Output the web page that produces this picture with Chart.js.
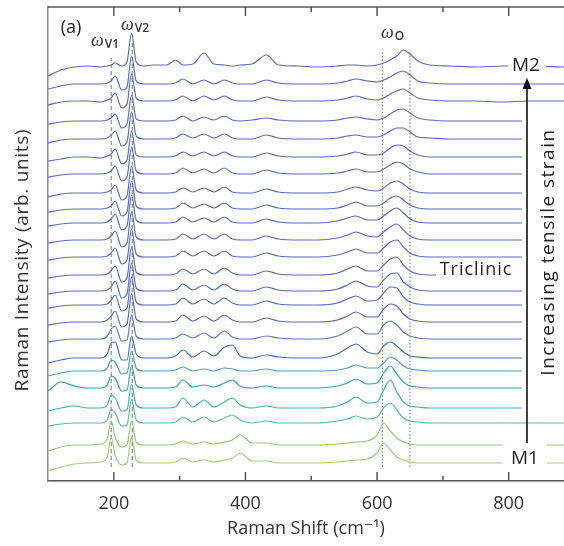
<!DOCTYPE html>
<html>
<head>
<meta charset="utf-8">
<script src="https://cdn.jsdelivr.net/npm/chart.js@4"></script>
<style>
  body { margin: 0; background: #fff; overflow: hidden; }
</style>
</head>
<body>
<canvas id="ramanChart" width="564" height="546"></canvas>
<script>
// Raman shift grid (cm-1)
const ramanShift = [100,120,140,160,180,190,196,202,212,220,227,234,245,260,280,294,305,320,337,352,368,380,392,410,432,450,480,510,540,555,568,585,600,610,620,630,640,650,662,680,710,750,790,830,884];

// vertical offset of each spectrum, top (M2) to bottom (M1)
const offsets = [415,397,380,360,342,324,307,288,272,258,241,224,206,190,176,159,142,123,110,93,73,58,36,18];

// spectra (intensity above each offset)
const spec0  = [-10,-4,-1,0,-1,0,1,3,0,4,33,4,0,1,1,6,1,2,13,2,1,0,1,2,11,1,0,-1,0,1,1,0,1,3,6,10,16,12,5,1,0,-1,0,0,-1];
const spec1  = [-5,-2,0,0,0,1,3,8,-6,-3,28,3,0,0,0,1,5,0,4,0,4,1,0,0,4,1,0,0,1,3,5,3,2,4,7,11,13,9,3,1,0,0,0,0,0];
const spec2  = [-4,-1,0,0,-1,1,3,8,-7,-3,27,3,0,0,0,1,5,0,5,1,5,1,0,0,4,1,0,0,1,3,5,2,1,3,7,10,12,8,3,1,0,0,-1,0,0];
const spec3  = [-3,-1,0,0,0,1,3,7,-7,-3,26,2,0,0,0,1,5,0,4,1,5,1,0,1,3,1,0,0,1,3,4,2,1,3,7,11,12,8,3,1,0,0,0,0,0];
const spec4  = [-4,-1,0,0,0,1,4,8,-7,-3,27,3,0,0,0,1,5,1,5,1,5,1,0,0,4,1,0,0,1,3,4,2,2,4,8,11,11,7,2,1,0,0,0,0,0];
const spec5  = [-4,-2,0,0,-1,1,3,8,-7,-3,26,2,0,0,0,1,5,1,5,1,5,1,0,0,4,1,0,0,1,3,5,2,2,4,9,12,11,6,2,0,0,0,0,0,0];
const spec6  = [-3,-1,0,0,0,1,3,8,-7,-3,27,3,0,0,0,1,6,1,5,1,6,1,0,0,4,1,0,0,1,3,5,2,2,5,9,12,10,5,2,0,0,0,0,0,0];
const spec7  = [-4,-1,0,0,0,1,3,8,-7,-3,27,3,0,0,0,1,5,1,5,1,6,1,0,0,4,1,0,0,1,4,6,3,2,5,10,12,9,4,1,0,0,0,0,0,0];
const spec8  = [-3,-1,0,0,0,1,3,8,-7,-3,28,3,0,0,0,1,6,1,5,1,6,1,0,0,4,1,0,0,1,4,7,3,3,6,11,13,9,4,1,0,0,0,0,0,0];
const spec9  = [-3,-1,0,0,0,1,4,9,-7,-3,28,3,0,0,0,1,6,1,5,1,6,1,0,0,4,1,0,0,2,5,7,3,3,7,12,15,10,4,1,0,0,0,0,0,0];
const spec10 = [-3,-1,0,0,0,1,4,9,-7,-3,28,3,0,0,0,1,6,1,6,1,6,1,0,0,4,1,0,0,2,5,8,4,3,8,13,16,10,4,1,0,0,0,0,0,0];
const spec11 = [-3,-1,0,0,0,1,4,9,-7,-3,28,3,0,0,0,1,6,1,6,1,6,1,0,0,4,1,0,0,2,5,8,4,4,9,15,17,10,4,1,0,0,0,0,0,0];
const spec12 = [-3,-1,0,0,0,1,4,9,-7,-3,28,3,0,0,0,1,6,1,6,1,7,2,0,0,4,1,0,0,2,6,9,4,4,10,16,18,10,4,1,0,0,0,0,0,0];
const spec13 = [-3,-1,0,0,0,1,4,10,-7,-3,28,3,0,0,0,1,7,1,6,1,7,2,0,0,4,1,0,0,2,6,10,5,4,11,17,18,9,4,1,0,0,0,0,0,0];
const spec14 = [-3,-1,0,0,0,1,5,10,-6,-3,28,3,0,0,0,1,7,1,6,1,7,2,0,0,4,1,0,0,2,6,9,4,5,12,18,17,8,3,1,0,0,0,0,0,0];
const spec15 = [-3,-1,0,0,0,2,6,11,-5,-2,28,3,0,0,0,1,7,1,6,1,7,2,0,0,4,1,0,0,2,6,10,5,5,13,18,16,8,3,1,0,0,0,0,0,0];
const spec16 = [-3,-1,0,0,0,3,10,13,-2,-1,24,3,0,0,0,1,5,1,6,1,8,2,0,0,3,1,0,0,3,8,12,5,5,14,18,14,7,3,1,0,0,0,0,0,0];
const spec17 = [-5,-2,0,0,0,4,15,16,-2,-2,22,4,0,0,0,2,8,1,7,2,11,13,2,0,3,1,0,0,4,10,14,6,4,12,16,12,6,2,1,0,0,0,0,0,0];
const spec18 = [-5,-2,0,0,0,3,11,9,-3,-2,20,3,0,0,0,1,4,0,2,0,3,2,0,0,2,0,0,0,1,3,6,3,3,8,14,11,5,2,1,0,0,0,0,0,0];
const spec19 = [-3,6,2,0,0,3,12,10,-3,-2,22,3,0,0,0,1,8,1,3,1,5,8,2,0,2,0,0,0,2,5,9,4,5,15,22,14,6,2,1,0,0,0,0,0,0];
const spec20 = [-3,0,2,0,0,3,13,10,-3,-2,24,3,0,0,0,1,10,1,8,1,6,10,3,0,2,0,0,0,2,6,11,5,6,18,28,16,6,2,1,0,0,0,0,0,0];
const spec21 = [-3,-1,0,0,0,3,14,10,-3,-2,24,3,0,0,0,1,6,1,6,1,5,8,3,0,2,0,0,0,2,4,7,4,6,15,20,13,5,2,1,0,0,0,0,0,0];
const spec22 = [-6,-2,0,0,1,6,24,8,-2,0,24,3,0,0,0,1,4,1,3,1,3,5,10,2,2,0,0,0,1,2,3,4,10,22,14,7,3,1,0,0,0,0,0,0,0];
const spec23 = [-8,-4,-1,0,1,6,26,8,-2,0,26,3,0,0,0,1,5,1,3,1,3,5,10,2,2,0,0,0,1,2,3,4,10,20,13,6,3,1,0,0,0,0,0,0,0];

const spectra = [spec0,spec1,spec2,spec3,spec4,spec5,spec6,spec7,spec8,spec9,spec10,spec11,
                 spec12,spec13,spec14,spec15,spec16,spec17,spec18,spec19,spec20,spec21,spec22,spec23];

// mode guide lines: omega_V1, omega_V2, omega_O (two)
const markerShifts = [196, 228, 608, 650];
const markerTops = [423, 440, 431, 431];
const markerBottom = 14;

const xTicks = [200, 400, 600, 800];

const blue = '#5a6dc2';
const lineColors = [blue,blue,blue,blue,blue,blue,blue,blue,blue,blue,blue,blue,blue,blue,blue,blue,
                    '#5a78c6','#4470c2','#4f9bd2','#33a0b4','#40b0bf','#58bf9c','#90cd72','#9fd279'];

const datasets = spectra.map((spec, k) => ({
    data: ramanShift.map((x, i) => ({ x: x, y: offsets[k] + spec[i] })),
    borderColor: lineColors[k],
    borderWidth: 1.2,
    pointRadius: 0,
    cubicInterpolationMode: 'monotone'
}));

markerShifts.forEach((x, i) => {
    datasets.push({
        data: [{ x: x, y: markerBottom }, { x: x, y: markerTops[i] }],
        borderColor: '#777',
        borderWidth: 1,
        borderDash: i < 2 ? [4, 3] : [1.5, 2],
        pointRadius: 0
    });
});

const font = '"Open Sans", "DejaVu Sans", sans-serif';

function omega(ctx, x, y, sub) {
    ctx.font = 'italic 18px "Liberation Serif", serif';
    ctx.textAlign = 'left';
    ctx.textBaseline = 'middle';
    ctx.fillStyle = '#333';
    ctx.fillText('ω', x, y);
    const w = ctx.measureText('ω').width;
    ctx.font = '600 12px ' + font;
    ctx.fillText(sub, x + w + 1, y + 4);
}

function spaced(ctx, text, x, y, spacing) {
    ctx.letterSpacing = spacing + 'px';
    ctx.fillText(text, x, y);
    ctx.letterSpacing = '0px';
}

const annotations = {
    id: 'annotations',
    afterDatasetsDraw(chart) {
        const ctx = chart.ctx;
        const xs = chart.scales.x;
        const area = chart.chartArea;
        ctx.save();

        // blank areas behind labels
        ctx.fillStyle = '#fff';
        ctx.fillRect(508, 55, 38, 22);
        ctx.fillRect(502, 440, 45, 30);
        ctx.fillRect(436, 258, 88, 24);
        ctx.fillRect(522, 110, 42, 302);

        // top frame and inward tick marks
        ctx.strokeStyle = '#555';
        ctx.lineWidth = 1.5;
        ctx.beginPath();
        ctx.moveTo(area.left, area.top);
        ctx.lineTo(area.right, area.top);
        for (let v = 200; v <= 800; v += 100) {
            const px = xs.getPixelForValue(v);
            const len = v % 200 === 0 ? 9 : 5;
            ctx.moveTo(px, area.bottom);
            ctx.lineTo(px, area.bottom - len);
            ctx.moveTo(px, area.top);
            ctx.lineTo(px, area.top + len);
        }
        ctx.stroke();

        // arrow
        ctx.strokeStyle = '#111';
        ctx.fillStyle = '#111';
        ctx.lineWidth = 1.6;
        ctx.beginPath();
        ctx.moveTo(527, 443);
        ctx.lineTo(527, 86);
        ctx.stroke();
        ctx.beginPath();
        ctx.moveTo(527, 78);
        ctx.lineTo(522.5, 89);
        ctx.lineTo(531.5, 89);
        ctx.closePath();
        ctx.fill();

        // text
        ctx.fillStyle = '#222';
        ctx.textAlign = 'center';
        ctx.textBaseline = 'middle';
        ctx.font = '19px ' + font;
        ctx.fillText('M2', 526, 66);
        ctx.fillText('M1', 525, 459);
        ctx.font = '18px ' + font;
        spaced(ctx, 'Triclinic', 476, 270, 1);
        ctx.fillText('(a)', 71, 28);

        ctx.save();
        ctx.translate(549, 252);
        ctx.rotate(-Math.PI / 2);
        ctx.font = '19px ' + font;
        spaced(ctx, 'Increasing tensile strain', 0, 0, 1.5);
        ctx.restore();

        ctx.save();
        ctx.translate(23, 260);
        ctx.rotate(-Math.PI / 2);
        ctx.fillStyle = '#333';
        ctx.font = '19px ' + font;
        spaced(ctx, 'Raman Intensity (arb. units)', 0, 0, 0.7);
        ctx.restore();

        omega(ctx, 91, 41, 'V1');
        omega(ctx, 121, 25, 'V2');
        omega(ctx, 381, 33, 'O');

        ctx.restore();
    }
};

new Chart(document.getElementById('ramanChart'), {
    type: 'line',
    data: { datasets: datasets },
    options: {
        responsive: false,
        animation: false,
        devicePixelRatio: 1,
        layout: { padding: { left: 0, top: 7, right: 0, bottom: 6 } },
        plugins: { legend: { display: false }, tooltip: { enabled: false } },
        scales: {
            x: {
                type: 'linear',
                min: 100,
                max: 884,
                afterBuildTicks: (scale) => { scale.ticks = xTicks.map(v => ({ value: v })); },
                afterFit: (scale) => { scale.height = 59; },
                grid: { display: false, drawTicks: false },
                border: { display: true, color: '#555', width: 1.5 },
                ticks: { color: '#333', font: { family: font, size: 18 }, padding: 12, maxRotation: 0 },
                title: { display: true, text: 'Raman Shift (cm⁻¹)', color: '#333', font: { family: font, size: 18 }, padding: 0 }
            },
            y: {
                type: 'linear',
                min: 0,
                max: 474,
                afterFit: (scale) => { scale.width = 48; },
                grid: { display: false, drawTicks: false },
                border: { display: true, color: '#888', width: 1.5 },
                ticks: { display: false }
            }
        }
    },
    plugins: [annotations]
});
</script>
</body>
</html>
